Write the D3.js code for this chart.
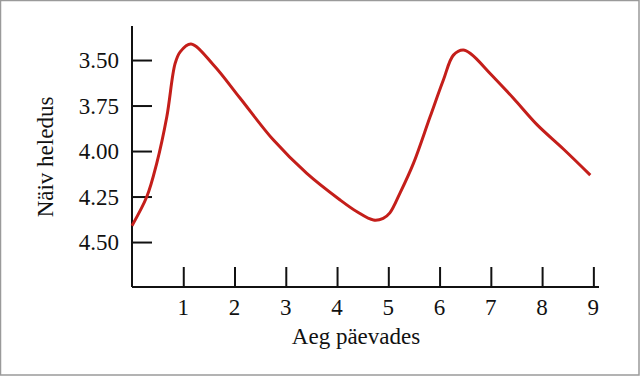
<!DOCTYPE html>
<html>
<head>
<meta charset="utf-8">
<script src="https://cdn.jsdelivr.net/npm/d3@7"></script>
<style>
  body { margin: 0; background: #fff; }
  svg { display: block; }
</style>
</head>
<body>
<div id="chart"></div>
<script>
'use strict'

// time in days, apparent magnitude
const days = [0, 0.29, 0.48, 0.68, 0.84, 0.94, 1.15, 1.59, 2.11, 2.76, 3.41, 4.06, 4.39, 4.71, 4.90, 5.03, 5.23, 5.49, 5.815, 6.074, 6.27, 6.46, 6.62, 7.0, 7.44, 7.9, 8.42, 8.94]
const magnitude = [4.41, 4.25, 4.07, 3.81, 3.52, 3.455, 3.412, 3.527, 3.71, 3.94, 4.123, 4.269, 4.334, 4.379, 4.37, 4.34, 4.23, 4.068, 3.812, 3.61, 3.473, 3.445, 3.468, 3.578, 3.71, 3.855, 3.99, 4.132]
const xTicks = [1, 2, 3, 4, 5, 6, 7, 8, 9]
const yTicks = [3.50, 3.75, 4.00, 4.25, 4.50]

const width = 640, height = 376
const font = '"Liberation Serif", "Times New Roman", serif'

const svg = d3.select('#chart').append('svg')
    .attr('width', width)
    .attr('height', height)

// frame round the picture
svg.append('rect')
    .attr('x', 0.5).attr('y', 0.5)
    .attr('width', width - 1.5).attr('height', height - 1.5)
    .attr('fill', 'white')
    .attr('stroke', '#9a9a9a')
    .attr('stroke-width', 1.5)

const x = d3.scaleLinear().domain([0, 9.11]).range([132, 599])
const y = d3.scaleLinear().domain([3.313, 4.747]).range([26, 287])  // magnitude: brighter is up

// x axis, ticks pointing up
const xAxis = svg.append('g')
    .attr('transform', `translate(0,${y(4.747)})`)
    .call(d3.axisTop(x).tickValues(xTicks).tickSize(20).tickFormat(''))
xAxis.select('.domain').attr('d', `M${x(0)},0H${x(9.11)}`).attr('stroke', '#111').attr('stroke-width', 2)
xAxis.selectAll('.tick line').attr('stroke', '#111').attr('stroke-width', 2)

svg.append('g').selectAll('text')
    .data(xTicks)
    .join('text')
    .attr('x', d => x(d))
    .attr('y', 315)
    .attr('text-anchor', 'middle')
    .attr('font-family', font)
    .attr('font-size', 23)
    .attr('fill', '#111')
    .text(d => d)

// y axis, ticks pointing right
const yAxis = svg.append('g')
    .attr('transform', `translate(${x(0)},0)`)
    .call(d3.axisRight(y).tickValues(yTicks).tickSize(20).tickFormat(''))
yAxis.select('.domain').attr('d', `M0,${y(3.313)}V${y(4.747)}`).attr('stroke', '#111').attr('stroke-width', 2)
yAxis.selectAll('.tick line').attr('stroke', '#111').attr('stroke-width', 2)

svg.append('g').selectAll('text')
    .data(yTicks)
    .join('text')
    .attr('x', 119)
    .attr('y', d => y(d))
    .attr('dy', '0.35em')
    .attr('text-anchor', 'end')
    .attr('font-family', font)
    .attr('font-size', 23)
    .attr('fill', '#111')
    .text(d => d.toFixed(2))

// axis titles
svg.append('text')
    .attr('x', 356)
    .attr('y', 344)
    .attr('text-anchor', 'middle')
    .attr('font-family', font)
    .attr('font-size', 23)
    .attr('fill', '#111')
    .text('Aeg päevades')

svg.append('text')
    .attr('transform', 'translate(53,157) rotate(-90)')
    .attr('text-anchor', 'middle')
    .attr('font-family', font)
    .attr('font-size', 23)
    .attr('fill', '#111')
    .text('Näiv heledus')

// light curve
const pts = days.map((d, i) => [d, magnitude[i]])
svg.append('path')
    .datum(pts)
    .attr('fill', 'none')
    .attr('stroke', '#c41e1a')
    .attr('stroke-width', 3)
    .attr('stroke-linejoin', 'round')
    .attr('d', d3.line()
        .curve(d3.curveCatmullRom.alpha(0.5))
        .x(d => x(d[0]))
        .y(d => y(d[1])))
</script>
</body>
</html>
